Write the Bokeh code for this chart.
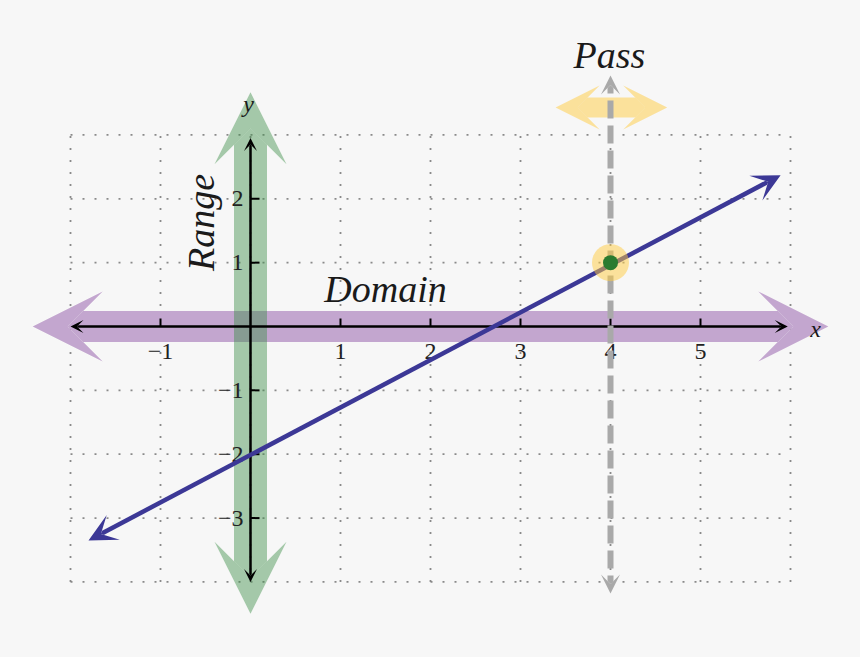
import math
from bokeh.plotting import figure
from bokeh.models import Range1d, Arrow, VeeHead, Label
from bokeh.core.properties import value
from bokeh.embed import file_html
from bokeh.resources import INLINE

# ---------------- data ----------------
grid_x = [-2, -1, 0, 1, 2, 3, 4, 5, 6]
grid_y = [-4, -3, -2, -1, 0, 1, 2, 3]
x_ticks = [-1, 1, 2, 3, 4, 5]
x_tick_labels = ["−1", "1", "2", "3", "4", "5"]
y_ticks = [-3, -2, -1, 1, 2]
y_tick_labels = ["−3", "−2", "−1", "1", "2"]
line_x = [-1.8, 5.89]
line_y = [-3.35, 2.37]
pass_x = [4]
pass_y = [1]
domain_extent = [-2.42, 6.42]
range_extent = [-4.5, 3.67]
x_axis_extent = [-2.0, 5.97]
y_axis_extent = [-4.0, 2.95]
pass_line_extent = [-4.18, 3.93]
pass_arrow_x = [3.39, 4.63]
pass_arrow_y = 3.43

# ---------------- scale ----------------
PX_X = 90.0
PX_Y = 63.86
OX, OY = 250, 326          # pixel position of the origin
W, H = 860, 657
FONT = "Liberation Serif"

p = figure(width=W, height=H,
           x_range=Range1d((0 - OX) / PX_X, (W - OX) / PX_X),
           y_range=Range1d((OY - H) / PX_Y, (OY - 0) / PX_Y),
           output_backend="svg", toolbar_location=None, min_border=0,
           x_axis_location=None, y_axis_location=None,
           background_fill_color="#f7f7f7", border_fill_color="#f7f7f7",
           outline_line_color=None)
p.grid.visible = False

# dotted grid
p.segment(x0=grid_x, y0=min(grid_y), x1=grid_x, y1=max(grid_y),
          line_color="#8a8a8a", line_width=1.8, line_dash="2 10", level="image")
p.segment(x0=min(grid_x), y0=grid_y, x1=max(grid_x), y1=grid_y,
          line_color="#8a8a8a", line_width=1.8, line_dash="2 10", level="image")

def head(size, color, alpha=1.0):
    return VeeHead(size=size, fill_color=color, fill_alpha=alpha, line_color=None)

# domain band (purple)
purple = "#c3a6cf"
p.add_layout(Arrow(start=head(70, purple), end=head(70, purple),
                   x_start=domain_extent[0], y_start=0, x_end=domain_extent[1], y_end=0,
                   line_color=purple, line_width=31, level="underlay"))
# range band (green, translucent)
green = "#3f8f4a"
p.add_layout(Arrow(start=head(72, green, 0.45), end=head(72, green, 0.45),
                   x_start=0, y_start=range_extent[0], x_end=0, y_end=range_extent[1],
                   line_color=green, line_alpha=0.45, line_width=33, level="underlay"))

# ticks and tick labels
p.segment(x0=x_ticks, y0=0, x1=x_ticks, y1=8 / PX_Y, line_color="black", line_width=2)
p.segment(x0=0, y0=y_ticks, x1=9 / PX_X, y1=y_ticks, line_color="black", line_width=2)
p.text(x=x_ticks, y=-25 / PX_Y, text=x_tick_labels, text_align="center",
       text_baseline="middle", text_font=value(FONT), text_font_size="24px",
       text_color="#222222")
p.text(x=-7 / PX_X, y=y_ticks, text=y_tick_labels, text_align="right",
       text_baseline="middle", text_font=value(FONT), text_font_size="24px",
       text_color="#222222")

# axes
p.add_layout(Arrow(start=head(13, "black"), end=head(13, "black"),
                   x_start=x_axis_extent[0], y_start=0, x_end=x_axis_extent[1], y_end=0,
                   line_color="black", line_width=2.5, level="glyph"))
p.add_layout(Arrow(start=head(13, "black"), end=head(13, "black"),
                   x_start=0, y_start=y_axis_extent[0], x_end=0, y_end=y_axis_extent[1],
                   line_color="black", line_width=2.5, level="glyph"))

# the line
blue = "#3c3896"
p.add_layout(Arrow(start=head(28, blue), end=head(28, blue),
                   x_start=line_x[0], y_start=line_y[0], x_end=line_x[1], y_end=line_y[1],
                   line_color=blue, line_width=4.5, level="glyph"))

# pass test
yellow = "#ffcc40"
p.add_layout(Arrow(start=head(44, yellow, 0.5), end=head(44, yellow, 0.5),
                   x_start=pass_arrow_x[0], y_start=pass_arrow_y,
                   x_end=pass_arrow_x[1], y_end=pass_arrow_y,
                   line_color=yellow, line_alpha=0.5, line_width=20, level="glyph"))
gray = "#a9a9a9"
p.add_layout(Arrow(start=head(19, gray), end=head(19, gray),
                   x_start=pass_x[0], y_start=pass_line_extent[0],
                   x_end=pass_x[0], y_end=pass_line_extent[1],
                   line_color=gray, line_width=6, line_dash="18 7", level="glyph"))
p.scatter(x=pass_x, y=pass_y, size=37, fill_color=yellow, fill_alpha=0.5,
          line_color=None, level="annotation")
p.scatter(x=pass_x, y=pass_y, size=15, fill_color="#2a7b2f", line_color=None,
          level="annotation")

# labels
def lab(x, y, text, size, angle=0.0):
    p.add_layout(Label(x=x, y=y, text=text, text_align="center", text_baseline="middle",
                       text_font=FONT, text_font_style="italic", text_font_size=size,
                       text_color="#1a1a1a", angle=angle, level="overlay"))

lab((815 - OX) / PX_X, (OY - 328) / PX_Y, "x", "24px")
lab((248 - OX) / PX_X, (OY - 103) / PX_Y, "y", "24px")
lab((385 - OX) / PX_X, (OY - 288) / PX_Y, "Domain", "38px")
lab((200 - OX) / PX_X, (OY - 222) / PX_Y, "Range", "38px", math.pi / 2)
lab((609 - OX) / PX_X, (OY - 54) / PX_Y, "Pass", "38px")

tmpl = """{% block preamble %}<style>html, body { background: #f7f7f7; margin: 0; padding: 0; }</style>{% endblock %}"""
open("out.html", "w").write(file_html(p, INLINE, template=tmpl))
